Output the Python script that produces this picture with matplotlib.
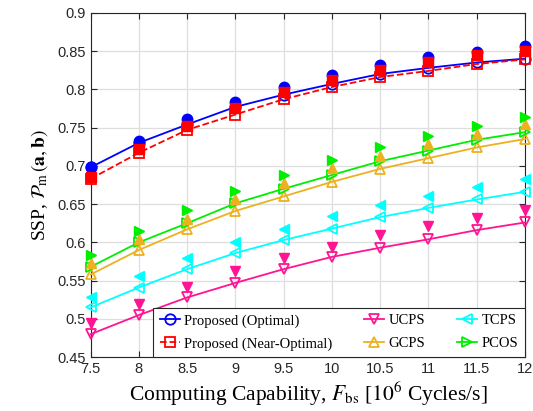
import matplotlib
matplotlib.use("Agg")
import matplotlib.pyplot as plt
import numpy as np

plt.rcParams['mathtext.fontset'] = 'stix'

# computing capability [10^6 cycles/s]
f_bs = [7.5, 8, 8.5, 9, 9.5, 10, 10.5, 11, 11.5, 12]

# analytical curves (open markers)
opt_ana = [0.698, 0.730, 0.754, 0.777, 0.793, 0.807, 0.820, 0.828, 0.835, 0.840]
near_ana = [0.683, 0.717, 0.747, 0.767, 0.787, 0.803, 0.816, 0.824, 0.833, 0.839]
ucps_ana = [0.480, 0.505, 0.528, 0.547, 0.565, 0.581, 0.593, 0.604, 0.616, 0.626]
tcps_ana = [0.515, 0.541, 0.565, 0.586, 0.603, 0.618, 0.633, 0.645, 0.656, 0.666]
gcps_ana = [0.558, 0.590, 0.617, 0.641, 0.660, 0.679, 0.696, 0.710, 0.724, 0.735]
pcos_ana = [0.568, 0.600, 0.625, 0.651, 0.670, 0.688, 0.706, 0.720, 0.734, 0.744]

# simulation points (filled markers)
opt_sim = [0.699, 0.733, 0.761, 0.784, 0.803, 0.819, 0.832, 0.842, 0.849, 0.856]
near_sim = [0.686, 0.722, 0.752, 0.775, 0.797, 0.812, 0.825, 0.836, 0.845, 0.850]
ucps_sim = [0.494, 0.519, 0.542, 0.562, 0.579, 0.594, 0.609, 0.621, 0.632, 0.642]
tcps_sim = [0.528, 0.556, 0.580, 0.601, 0.618, 0.634, 0.649, 0.661, 0.672, 0.683]
gcps_sim = [0.573, 0.604, 0.631, 0.657, 0.678, 0.697, 0.713, 0.728, 0.742, 0.754]
pcos_sim = [0.584, 0.615, 0.642, 0.667, 0.688, 0.707, 0.724, 0.739, 0.752, 0.764]

blue = '#0000ff'
red = '#ff0000'
pink = '#ff1493'
cyan = '#00ffff'
orange = '#edb120'
green = '#00ee00'

fig = plt.figure(figsize=(5.33, 4.11), dpi=100)
ax = fig.add_axes([0.170, 0.131, 0.815, 0.838])

lw = 1.3
ms = 7.5
ax.plot(f_bs, opt_ana, '-', color=blue, lw=lw, marker='o', ms=ms, mfc='none', mew=1.3, label='Proposed (Optimal)', zorder=3, clip_on=False)
ax.plot(f_bs, near_ana, '--', color=red, lw=lw, marker='s', ms=ms - 0.5, mfc='none', mew=1.3, label='Proposed (Near-Optimal)', zorder=3, clip_on=False)
ax.plot(f_bs, ucps_ana, '-', color=pink, lw=lw, marker='v', ms=ms, mfc='none', mew=1.3, label='UCPS', zorder=3, clip_on=False)
ax.plot(f_bs, gcps_ana, '-', color=orange, lw=lw, marker='^', ms=ms, mfc='none', mew=1.3, label='GCPS', zorder=3, clip_on=False)
ax.plot(f_bs, tcps_ana, '-', color=cyan, lw=lw, marker='<', ms=ms, mfc='none', mew=1.3, label='TCPS', zorder=3, clip_on=False)
ax.plot(f_bs, pcos_ana, '-', color=green, lw=lw, marker='>', ms=ms, mfc='none', mew=1.3, label='PCOS', zorder=3, clip_on=False)

ax.plot(f_bs, opt_sim, 'o', color=blue, ms=ms, zorder=4, clip_on=False)
ax.plot(f_bs, near_sim, 's', color=red, ms=ms - 0.5, zorder=5, clip_on=False)
ax.plot(f_bs, ucps_sim, 'v', color=pink, ms=ms, zorder=4, clip_on=False)
ax.plot(f_bs, gcps_sim, '^', color=orange, ms=ms, zorder=4, clip_on=False)
ax.plot(f_bs, tcps_sim, '<', color=cyan, ms=ms, zorder=4, clip_on=False)
ax.plot(f_bs, pcos_sim, '>', color=green, ms=ms, zorder=4, clip_on=False)

ax.set_xlim(7.5, 12)
ax.set_ylim(0.45, 0.9)
ax.set_xticks(np.arange(7.5, 12.01, 0.5))
ax.set_yticks(np.arange(0.45, 0.901, 0.05))
ax.set_xticklabels(['7.5', '8', '8.5', '9', '9.5', '10', '10.5', '11', '11.5', '12'])
ax.set_yticklabels(['0.45', '0.5', '0.55', '0.6', '0.65', '0.7', '0.75', '0.8', '0.85', '0.9'])
ax.grid(True, color='#dedede', lw=0.9)
ax.set_axisbelow(True)
ax.tick_params(direction='in', top=True, right=True, length=4, width=0.8,
               labelsize=10.5, labelcolor='#262626', colors='#262626')
for lab in ax.get_xticklabels() + ax.get_yticklabels():
    lab.set_family('Liberation Sans')
for sp in ax.spines.values():
    sp.set_color('#262626')
    sp.set_linewidth(0.8)

ax.set_xlabel(r'Computing Capability, $F_{\rm bs}$ [$10^6$ Cycles/s]',
              family='Liberation Serif', fontsize=15.5, labelpad=3)
ax.set_ylabel(r'SSP, $\mathcal{P}_{\rm m}\,(\mathbf{a},\mathbf{b})$',
              family='Liberation Serif', fontsize=14, labelpad=5)

leg = ax.legend(loc='lower right', ncol=3, prop={'family': 'Liberation Serif', 'size': 10.5},
                frameon=True, fancybox=False, edgecolor='#262626', framealpha=1,
                handlelength=1.4, handletextpad=0.3, columnspacing=2.15,
                borderaxespad=0.0, borderpad=0.45, labelspacing=0.65)
leg.get_frame().set_linewidth(0.8)
leg.set_zorder(10)

fig.savefig('out.png', dpi=100)
